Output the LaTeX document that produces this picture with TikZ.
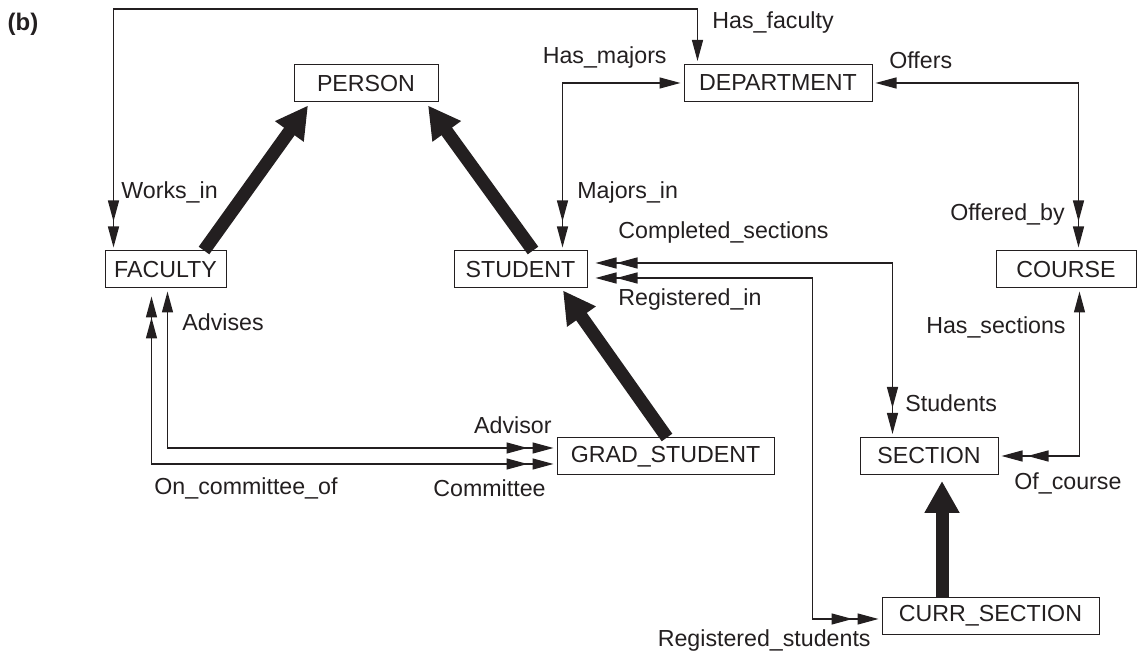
\documentclass[tikz,border=0pt]{standalone}
\usepackage{fontspec}
\setmainfont{Liberation Sans}
\usepackage{tikz}
\usetikzlibrary{
  positioning,
  arrows.meta,
  calc
}
\definecolor{ink}{RGB}{35, 31, 32}
\tikzset{
  entity/.style={
    draw=ink, line width=0.5pt, fill=white,
    minimum height=18.5pt,
    inner sep=0pt,
    font=\fontsize{11.6}{13}\selectfont,
    text=ink,
    align=center
  },
  tri/.tip={Triangle[length=10.5pt, width=5.5pt]},
  rel/.style={line width=0.65pt, draw=ink},
  relname/.style={font=\fontsize{11.6}{13}\selectfont, text=ink, inner sep=0pt}
}

\begin{document}
\begin{tikzpicture}[
  x=0.5pt, y=-0.5pt,
  onemany/.style={rel, {tri}-{tri[sep=2.5pt]tri}, shorten <=1.5pt, shorten >=1.5pt},
  manymany/.style={rel, {tri[sep=2.5pt]tri}-{tri[sep=2.5pt]tri}, shorten <=1.5pt, shorten >=1.5pt},
  isa/.style={line width=6.5pt, draw=ink, -{Triangle[length=16pt, width=16.5pt]}},
]
\useasboundingbox (0,0) rectangle (1140,656);

\node[font=\fontsize{12}{13}\selectfont\bfseries, text=ink] (tag) at (23,24) {(b)};

% Entidades
\node[entity, minimum width=72pt] (per) at (366,83.5) {PERSON};
\node[entity, minimum width=94pt] (dep) at (778,83) {DEPARTMENT};
\node[entity, minimum width=60.5pt] (fac) at (165.5,269.5) {FACULTY};
\node[entity, minimum width=66.5pt] (stu) at (520.5,269.5) {STUDENT};
\node[entity, minimum width=70pt] (crs) at (1066,269.5) {COURSE};
\node[entity, minimum width=108.5pt] (grd) at (665.5,456.5) {GRAD\_STUDENT};
\node[entity, minimum width=69pt] (sec) at (929,456) {SECTION};
\node[entity, minimum width=108.5pt] (cur) at (990.5,616) {CURR\_SECTION};

% Herencia
\draw[isa] ($(fac.north)+(38.5,0)$) -- ($(per.south)+(-58,3)$);
\draw[isa] ($(stu.north)+(12.5,0)$) -- ($(per.south)+(62,3)$);
\draw[isa] ($(grd.north)+(1.5,0)$) -- ($(stu.south)+(42.5,2)$);
\draw[isa] ($(cur.north)+(-48.5,0)$) -- ($(sec.south)+(13,6)$);

% Relaciones
\draw[onemany] ($(dep.north west)+(14,0)$) -- ++(0,-55) -| ($(fac.north west)+(9,0)$);
\draw[onemany] (dep.west) -| ($(stu.north west)+(109,0)$);
\draw[onemany] (dep.east) -| ($(crs.north west)+(83,0)$);
\draw[manymany] ($(stu.east)+(0,-6.5)$) -| ($(sec.north west)+(33,0)$);
\draw[manymany] ($(stu.east)+(0,8.5)$) -| ($(cur.west)+(-69,3)$) -- ($(cur.west)+(0,3)$);
\draw[onemany] ($(crs.south west)+(84,0)$) |- (sec.east);
\draw[onemany] ($(fac.south west)+(63,0)$) |- ($(grd.west)+(0,-8.5)$);
\draw[manymany] ($(fac.south west)+(47,0)$) |- ($(grd.west)+(0,7.5)$);

% Nombres de roles
\node[relname, anchor=west] (hasfac) at (712,23) {Has\_faculty};
\node[relname, anchor=west] (worksin) at (121,192) {Works\_in};
\node[relname, anchor=east] (hasmaj) at (667,58) {Has\_majors};
\node[relname, anchor=west] (majin) at (577,193) {Majors\_in};
\node[relname, anchor=west] (offers) at (889,60) {Offers};
\node[relname, anchor=east] (offby) at (1065,215) {Offered\_by};
\node[relname, anchor=west] (compsec) at (618,233) {Completed\_sections};
\node[relname, anchor=west] (studs) at (905,403) {Students};
\node[relname, anchor=west] (regin) at (618,300) {Registered\_in};
\node[relname, anchor=east] (regstu) at (871,641) {Registered\_students};
\node[relname, anchor=east] (hassec) at (1066,327) {Has\_sections};
\node[relname, anchor=west] (ofcrs) at (1014,483) {Of\_course};
\node[relname, anchor=west] (advises) at (182,322) {Advises};
\node[relname, anchor=east] (advisor) at (552,425) {Advisor};
\node[relname, anchor=east] (committee) at (546,488) {Committee};
\node[relname, anchor=west] (oncomm) at (154,488) {On\_committee\_of};

\end{tikzpicture}
\end{document}
